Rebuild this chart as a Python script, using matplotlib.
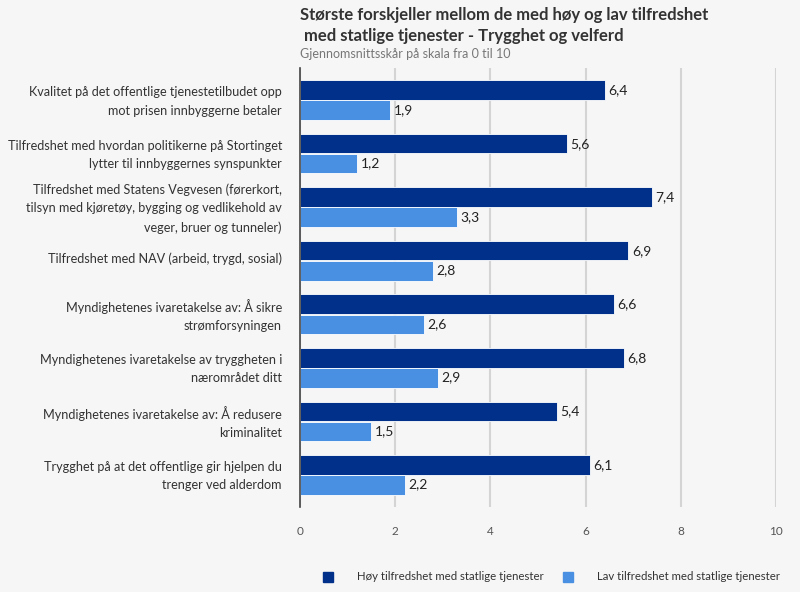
import numpy as np
import matplotlib.pyplot as plt
import matplotlib.transforms as mtransforms
from matplotlib.patches import Rectangle

plt.rcParams['font.family'] = ['Lato', 'DejaVu Sans']

#---- data ----
categories = [
    "Kvalitet på det offentlige tjenestetilbudet opp\nmot prisen innbyggerne betaler",
    "Tilfredshet med hvordan politikerne på Stortinget\nlytter til innbyggernes synspunkter",
    "Tilfredshet med Statens Vegvesen (førerkort,\ntilsyn med kjøretøy, bygging og vedlikehold av\nveger, bruer og tunneler)",
    "Tilfredshet med NAV (arbeid, trygd, sosial)",
    "Myndighetenes ivaretakelse av: Å sikre\nstrømforsyningen",
    "Myndighetenes ivaretakelse av tryggheten i\nnærområdet ditt",
    "Myndighetenes ivaretakelse av: Å redusere\nkriminalitet",
    "Trygghet på at det offentlige gir hjelpen du\ntrenger ved alderdom",
]
high_vals = [6.4, 5.6, 7.4, 6.9, 6.6, 6.8, 5.4, 6.1]
low_vals  = [1.9, 1.2, 3.3, 2.8, 2.6, 2.9, 1.5, 2.2]
series_names = ["Høy tilfredshet med statlige tjenester",
                "Lav tilfredshet med statlige tjenester"]
x_ticks = [0, 2, 4, 6, 8, 10]

dark  = "#00308a"
light = "#4a90e2"
bg    = "#f6f6f6"

fig = plt.figure(figsize=(8, 5.92), dpi=100, facecolor=bg)
ax = fig.add_axes([0.375, 0.1436, 0.595, 0.7415], facecolor=bg)

y = np.arange(len(categories))
h = 0.365
ax.barh(y - h/2 - 0.005, high_vals, height=h, color=dark, edgecolor="white", linewidth=0.6, zorder=3)
ax.barh(y + h/2 + 0.005, low_vals, height=h, color=light, edgecolor="white", linewidth=0.6, zorder=3)

for i in range(len(categories)):
    ax.text(high_vals[i] + 0.07, y[i] - h/2, ("%.1f" % high_vals[i]).replace(".", ","),
            va="center", ha="left", fontsize=10, color="#222222")
    ax.text(low_vals[i] + 0.07, y[i] + h/2, ("%.1f" % low_vals[i]).replace(".", ","),
            va="center", ha="left", fontsize=10, color="#222222")

ax.set_xlim(0, 10)
ax.set_ylim(len(categories) - 0.4, -0.6)
ax.set_xticks(x_ticks)
ax.set_xticklabels([str(t) for t in x_ticks], fontsize=8.5, color="#555555")
ax.set_yticks(y)
ax.set_yticklabels(categories, fontsize=9.1, color="#333333", linespacing=1.65,
                   multialignment="right")
ax.tick_params(axis="x", length=0, pad=14)
ax.tick_params(axis="y", length=0, pad=13)
#labels sit a little above group centre in the reference
shift = mtransforms.ScaledTranslation(0, 3/100, fig.dpi_scale_trans)
for lab in ax.get_yticklabels():
    lab.set_transform(lab.get_transform() + shift)
ax.grid(axis="x", color="#d4d4d4", linewidth=1.5, zorder=0)
for s in ["top", "right", "bottom"]:
    ax.spines[s].set_visible(False)
ax.spines["left"].set_color("#444444")
ax.spines["left"].set_linewidth(1.2)
ax.spines["left"].set_zorder(4)

#---- title ----
fig.text(0.375, 0.988, "Største forskjeller mellom de med høy og lav tilfredshet\n med statlige tjenester - Trygghet og velferd",
         fontsize=12, fontweight="bold", color="#333333", va="top", ha="left", linespacing=1.35)
fig.text(0.375, 0.909, "Gjennomsnittsskår på skala fra 0 til 10",
         fontsize=9, color="#777777", va="center", ha="left")

#---- legend ----
for px, col, name in [(328, dark, series_names[0]), (568, light, series_names[1])]:
    fig.patches.append(Rectangle((px/800 - 0.006, 1 - 577/592 - 0.008), 0.012, 0.016,
                                 transform=fig.transFigure, color=col))
    fig.text(px/800 + 0.036, 1 - 577/592, name, fontsize=8.2, color="#333333",
             va="center", ha="left")

plt.savefig("out.png", dpi=100, facecolor=bg)
